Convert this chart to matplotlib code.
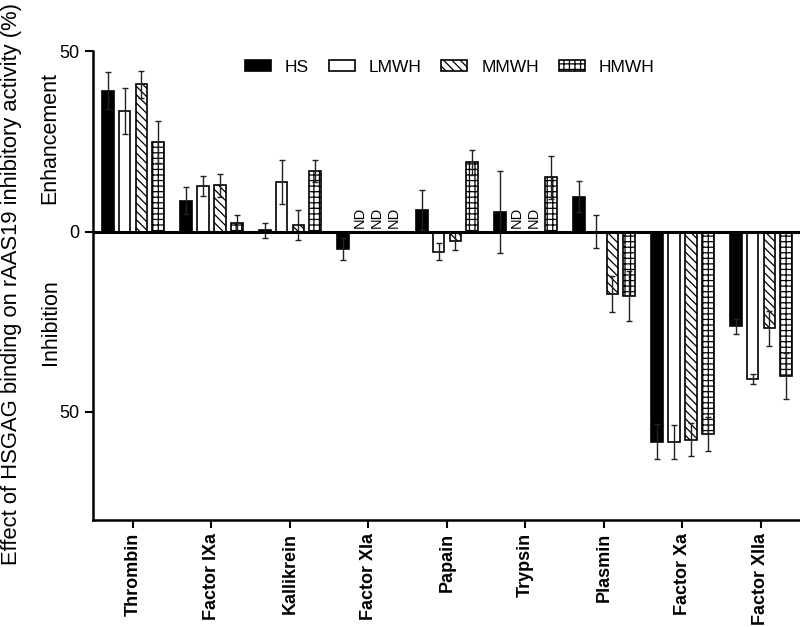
import matplotlib
matplotlib.use("Agg")

import numpy as np
import matplotlib.pyplot as plt

plt.rcParams['font.family'] = ['Liberation Sans', 'DejaVu Sans']
plt.rcParams['hatch.linewidth'] = 0.9

# data (percent; positive = enhancement, negative = inhibition, nan = not determined)
categories = ["Thrombin", "Factor IXa", "Kallikrein", "Factor XIa", "Papain",
              "Trypsin", "Plasmin", "Factor Xa", "Factor XIIa"]
series = ["HS", "LMWH", "MMWH", "HMWH"]
nan = np.nan
hs = [39.1, 8.6, 0.3, -4.9, 5.9, 5.3, 9.7, -58.4, -26.3]
hs_err = [5.2, 3.8, 2.2, 3.0, 5.5, 11.4, 4.4, 4.9, 2.1]
lmwh = [33.5, 12.6, 13.7, nan, -5.6, nan, 0.0, -58.4, -41.0]
lmwh_err = [6.3, 2.8, 6.1, nan, 2.4, nan, 4.6, 4.8, 1.4]
mmwh = [40.9, 12.8, 1.9, nan, -2.6, nan, -17.4, -57.8, -26.9]
mmwh_err = [3.8, 3.1, 4.2, nan, 2.6, nan, 5.0, 4.6, 4.8]
hmwh = [24.8, 2.4, 16.8, nan, 19.2, 15.1, -18.0, -56.3, -40.1]
hmwh_err = [5.8, 2.2, 3.0, nan, 3.5, 6.0, 6.9, 4.7, 6.4]

values = [hs, lmwh, mmwh, hmwh]
errors = [hs_err, lmwh_err, mmwh_err, hmwh_err]
faces = ["black", "white", "white", "white"]
hatches = [None, None, "\\\\\\\\", "+++"]

fig = plt.figure(figsize=(8, 6.27), dpi=100)
ax = fig.add_axes([0.1159, 0.1707, 0.8841, 0.7472])

x = np.arange(len(categories))
pitch = 0.214
width = 0.149

for i, name in enumerate(series):
    v = np.array(values[i], dtype=float)
    e = np.array(errors[i], dtype=float)
    pos = x + (i - 1.5) * pitch
    ok = ~np.isnan(v)
    ax.bar(pos[ok], v[ok], width, color=faces[i], edgecolor="black",
           linewidth=1.2, hatch=hatches[i], label=name, zorder=2)
    ax.errorbar(pos[ok], v[ok], yerr=e[ok], fmt="none", ecolor="#222222",
                elinewidth=1.0, capsize=2.5, capthick=1.0, zorder=3)
    for p in pos[~ok]:
        ax.text(p, 1.1, "ND", rotation=90, ha="center", va="bottom",
                fontsize=10.5)

ax.axhline(0, color="black", linewidth=2.2, zorder=4)

ax.set_xlim(-0.513, 8.497)
ax.set_ylim(-80.1, 50)
ax.set_yticks([50, 0, -50])
ax.set_yticklabels(["50", "0", "50"], fontsize=13)
ax.set_xticks(x)
ax.set_xticklabels(categories, rotation=90, fontsize=13, fontweight="bold")
ax.tick_params(axis="both", direction="out", length=6, width=1.5)

for s in ["top", "right"]:
    ax.spines[s].set_visible(False)
for s in ["left", "bottom"]:
    ax.spines[s].set_linewidth(1.8)

# axis title and the two side notes, placed in figure pixels
fig.text(12 / 800, 1 - 284 / 627,
         "Effect of HSGAG binding on rAAS19 inhibitory activity (%)",
         rotation=90, ha="center", va="center", fontsize=15.8)
fig.text(50 / 800, 1 - 138 / 627, "Enhancement", rotation=90,
         ha="center", va="center", fontsize=15.5)
fig.text(50 / 800, 1 - 322 / 627, "Inhibition", rotation=90,
         ha="center", va="center", fontsize=15.5)

ax.legend(ncol=4, frameon=False, loc="center",
          bbox_to_anchor=(449.5 / 800, 1 - 67 / 627),
          bbox_transform=fig.transFigure, fontsize=12.5,
          handlelength=1.5, handleheight=0.6, handletextpad=0.8,
          columnspacing=1.15)

fig.savefig("out.png", dpi=100)
